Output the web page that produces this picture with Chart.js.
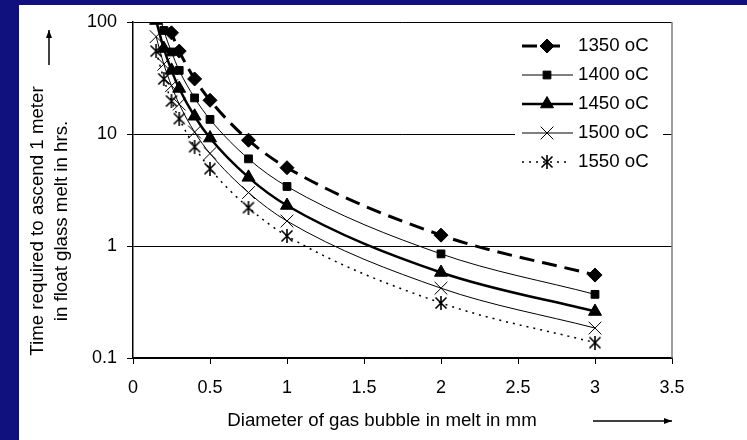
<!DOCTYPE html>
<html>
<head>
<meta charset="utf-8">
<script src="https://cdn.jsdelivr.net/npm/chart.js@4/dist/chart.umd.min.js"></script>
<style>
  html, body { margin: 0; padding: 0; background: #10107f; }
  #wrap { width: 747px; height: 440px; }
</style>
</head>
<body>
<div id="wrap"><canvas id="bubbleChart" width="747" height="440"></canvas></div>
<script>
// bubble diameters (mm) and rise times (hrs)
const diameters = [0.15, 0.2, 0.25, 0.3, 0.4, 0.5, 0.75, 1, 2, 3];
const t1350 = [222, 125, 80, 55, 31, 20, 8.8, 5, 1.25, 0.55];
const t1400 = [150, 84, 54, 37, 21, 13.5, 6, 3.4, 0.85, 0.37];
const t1450 = [103, 58, 37, 25.5, 14.4, 9.2, 4.1, 2.3, 0.58, 0.26];
const t1500 = [74, 42, 27, 18.5, 10.4, 6.7, 3, 1.67, 0.42, 0.185];
const t1550 = [55, 31, 19.7, 13.7, 7.7, 4.9, 2.2, 1.23, 0.31, 0.137];
const seriesLabels = ['1350 oC', '1400 oC', '1450 oC', '1500 oC', '1550 oC'];
const yTicks = [0.1, 1, 10, 100];

const FONT = '"Liberation Sans", Arial, sans-serif';

function pts(ys) {
  return diameters.map((d, i) => ({ x: d, y: ys[i] }));
}

// excel style asterisk: an X with a vertical stroke
function makeAsterisk() {
  const c = document.createElement('canvas');
  c.width = 14; c.height = 14;
  const g = c.getContext('2d');
  g.strokeStyle = '#000';
  g.lineWidth = 1.6;
  g.beginPath();
  g.moveTo(1.5, 1.5); g.lineTo(12.5, 12.5);
  g.moveTo(12.5, 1.5); g.lineTo(1.5, 12.5);
  g.moveTo(7, 0); g.lineTo(7, 14);
  g.stroke();
  return c;
}
const asterisk = makeAsterisk();

const styles = [
  { borderWidth: 3, borderDash: [15, 8], pointStyle: 'rectRot', pointRadius: 7 },
  { borderWidth: 1, borderDash: [], pointStyle: 'rect', pointRadius: 5.5 },
  { borderWidth: 2.5, borderDash: [], pointStyle: 'triangle', pointRadius: 7.5 },
  { borderWidth: 1, borderDash: [], pointStyle: 'crossRot', pointRadius: 9 },
  { borderWidth: 1.5, borderDash: [2, 5], pointStyle: asterisk, pointRadius: 7 }
];

const allData = [t1350, t1400, t1450, t1500, t1550];

const datasets = allData.map((ys, i) => ({
  label: seriesLabels[i],
  data: pts(ys),
  borderColor: '#000',
  backgroundColor: '#000',
  pointBackgroundColor: '#000',
  pointBorderColor: '#000',
  pointBorderWidth: 1,
  borderWidth: styles[i].borderWidth,
  borderDash: styles[i].borderDash,
  pointStyle: styles[i].pointStyle,
  pointRadius: styles[i].pointRadius,
  cubicInterpolationMode: 'monotone',
  fill: false
}));

const backdrop = {
  id: 'backdrop',
  beforeDraw(chart) {
    const ctx = chart.ctx;
    ctx.save();
    ctx.fillStyle = '#10107f';
    ctx.fillRect(0, 0, chart.width, chart.height);
    ctx.fillStyle = '#fff';
    ctx.fillRect(19, 5, chart.width - 19, chart.height - 5);
    ctx.restore();
  }
};

function arrow(ctx, x1, y1, x2, y2) {
  const ang = Math.atan2(y2 - y1, x2 - x1);
  ctx.beginPath();
  ctx.moveTo(x1, y1);
  ctx.lineTo(x2, y2);
  ctx.stroke();
  ctx.beginPath();
  ctx.moveTo(x2, y2);
  ctx.lineTo(x2 - 8 * Math.cos(ang) + 3 * Math.sin(ang), y2 - 8 * Math.sin(ang) - 3 * Math.cos(ang));
  ctx.lineTo(x2 - 8 * Math.cos(ang) - 3 * Math.sin(ang), y2 - 8 * Math.sin(ang) + 3 * Math.cos(ang));
  ctx.closePath();
  ctx.fill();
}

const extras = {
  id: 'extras',
  afterDatasetsDraw(chart) {
    const ctx = chart.ctx;
    const area = chart.chartArea;
    ctx.save();
    // right border of plot
    ctx.strokeStyle = '#808080';
    ctx.lineWidth = 1.5;
    ctx.beginPath();
    ctx.moveTo(area.right, area.top);
    ctx.lineTo(area.right, area.bottom);
    ctx.stroke();

    // legend
    ctx.fillStyle = '#fff';
    ctx.fillRect(515, 30, 148, 146);
    chart.data.datasets.forEach((ds, i) => {
      const y = 46 + i * 29;
      ctx.strokeStyle = '#000';
      ctx.lineWidth = ds.borderWidth;
      ctx.setLineDash(ds.borderDash);
      ctx.beginPath();
      ctx.moveTo(522, y);
      ctx.lineTo(i === 0 || i === 4 ? 566 : 573, y);
      ctx.stroke();
      ctx.setLineDash([]);
      ctx.fillStyle = '#000';
      ctx.lineWidth = 1;
      Chart.helpers.drawPoint(ctx, {
        pointStyle: ds.pointStyle,
        radius: ds.pointRadius,
        rotation: 0,
        borderWidth: 1
      }, 547, y);
      ctx.fillStyle = '#000';
      ctx.font = '18.7px ' + FONT;
      ctx.textBaseline = 'middle';
      ctx.textAlign = 'left';
      ctx.fillText(ds.label, 578, y);
    });
    ctx.restore();
  },
  afterDraw(chart) {
    const ctx = chart.ctx;
    ctx.save();
    ctx.fillStyle = '#000';
    ctx.strokeStyle = '#000';
    ctx.lineWidth = 1.5;
    ctx.font = '18.7px ' + FONT;
    ctx.textAlign = 'center';
    ctx.textBaseline = 'middle';
    // x title + arrow
    ctx.fillText('Diameter of gas bubble in melt in mm', 382, 421);
    arrow(ctx, 593, 421, 672, 421);
    // y title + arrow
    ctx.translate(50, 221);
    ctx.rotate(-Math.PI / 2);
    ctx.fillText('Time required to ascend 1 meter', 0, -12);
    ctx.fillText('in float glass melt in hrs.', 0, 12);
    ctx.restore();
    ctx.save();
    ctx.fillStyle = '#000';
    ctx.strokeStyle = '#000';
    ctx.lineWidth = 1.5;
    arrow(ctx, 49, 65, 49, 30);
    ctx.restore();
  }
};

const ctx = document.getElementById('bubbleChart').getContext('2d');
const chart = new Chart(ctx, {
  type: 'line',
  data: { datasets: datasets },
  options: {
    responsive: false,
    animation: false,
    layout: { padding: { top: 22, right: 75, left: 0, bottom: 0 } },
    plugins: { legend: { display: false }, tooltip: { enabled: false } },
    scales: {
      x: {
        type: 'linear',
        min: 0,
        max: 3.5,
        ticks: {
          stepSize: 0.5,
          color: '#000',
          padding: 13,
          font: { family: FONT, size: 18 },
          callback: v => String(v)
        },
        grid: { drawOnChartArea: false, drawTicks: true, tickLength: 6, color: '#000' },
        border: { color: '#000', width: 1.5 },
        afterFit: s => { s.height = 82; }
      },
      y: {
        type: 'logarithmic',
        min: 0.1,
        max: 100,
        afterBuildTicks: s => { s.ticks = yTicks.map(v => ({ value: v })); },
        ticks: {
          color: '#000',
          padding: 10,
          font: { family: FONT, size: 18 },
          callback: v => String(v)
        },
        grid: { color: '#000', lineWidth: 1, drawTicks: true, tickLength: 6 },
        border: { color: '#000', width: 1.5 },
        afterFit: s => { s.width = 133; }
      }
    }
  },
  plugins: [backdrop, extras]
});
</script>
</body>
</html>
